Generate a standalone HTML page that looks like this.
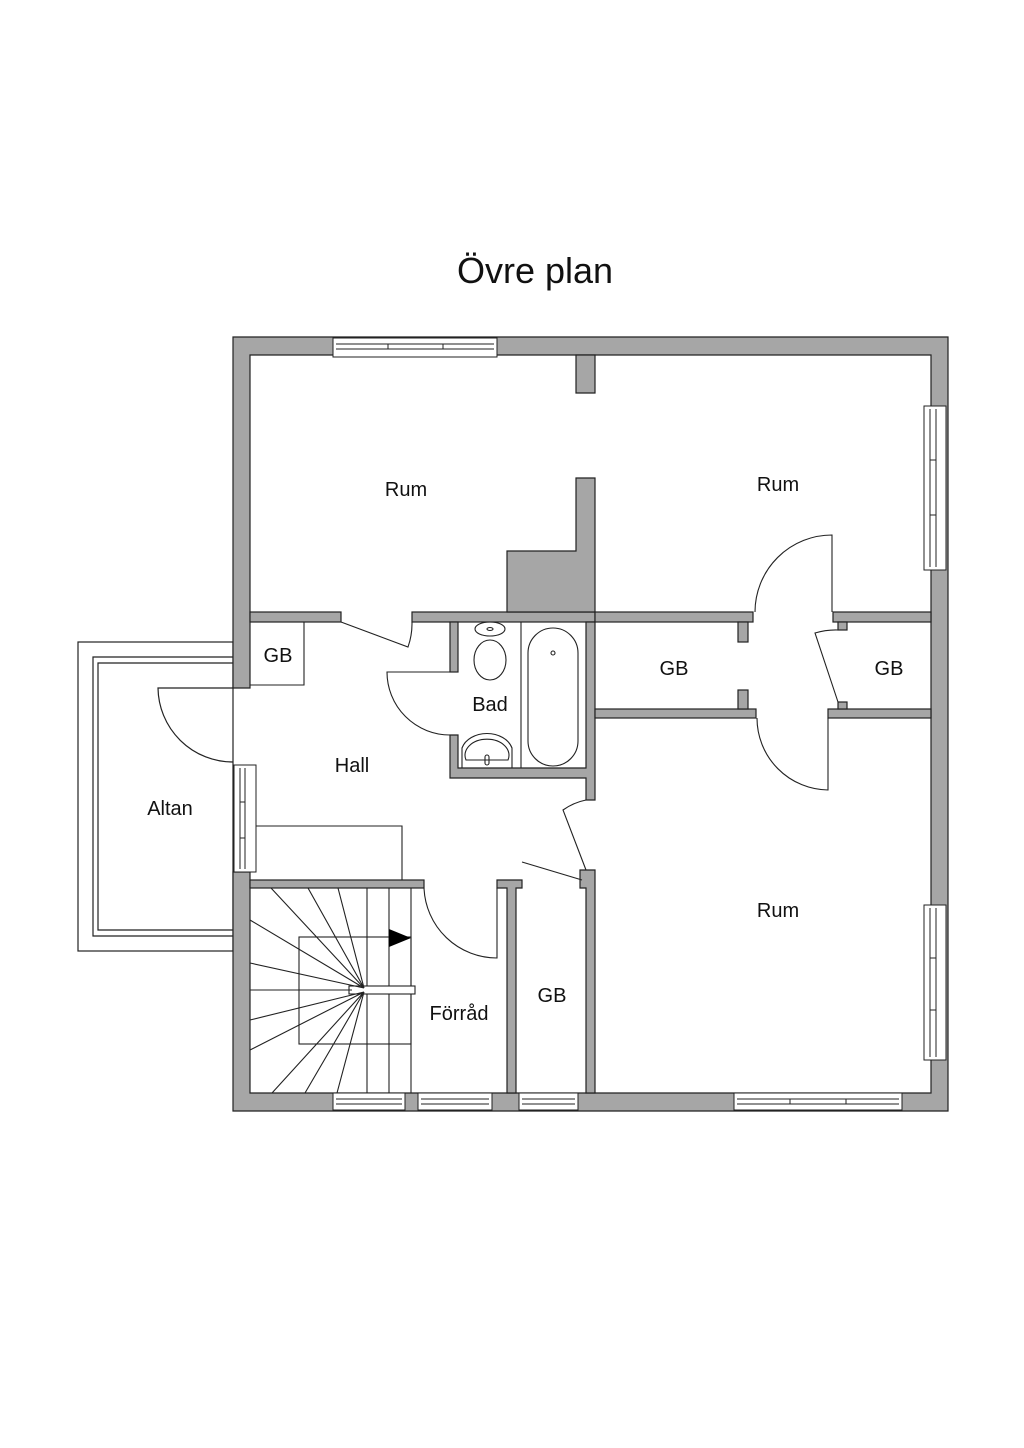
<!DOCTYPE html>
<html><head><meta charset="utf-8"><style>
html,body{margin:0;padding:0;background:#fff;width:1024px;height:1448px;overflow:hidden}
svg{display:block}
text{font-family:"Liberation Sans",sans-serif;fill:#111}
</style></head><body>
<svg width="1024" height="1448" viewBox="0 0 1024 1448" xmlns="http://www.w3.org/2000/svg">
<text x="535" y="283" font-size="36" text-anchor="middle">Övre plan</text>
<g fill="none" stroke="#222" stroke-width="1.2">
<!-- Altan -->
<rect x="78" y="642" width="155" height="309"/>
<path d="M233 657 H93 V936 H233 M233 663 H98 V930 H233"/>
<path d="M233 688 H158 A75 75 0 0 0 233 762"/>
</g>
<g fill="#a6a6a6" stroke="#222" stroke-width="1.2">
<!-- outer walls -->
<path d="M233 337 H948 V1111 H233 V872 H250 V1093 H931 V355 H250 V688 H233 Z"/>
<!-- top-left partition -->
<rect x="250" y="612" width="91" height="10"/>
<rect x="412" y="612" width="183" height="10"/>
<path d="M576 355 H595 V393 H576 Z"/>
<path d="M576 478 H595 V612 H507 V551 H576 Z"/>
<!-- bad walls -->
<rect x="450" y="622" width="8" height="50"/>
<path d="M450 735 H458 V768 H586 V622 H595 V800 H586 V778 H450 Z"/>
<!-- right partitions -->
<rect x="595" y="612" width="158" height="10"/>
<rect x="738" y="622" width="10" height="20"/>
<rect x="833" y="612" width="98" height="10"/>
<rect x="838" y="622" width="9" height="8"/>
<rect x="595" y="709" width="161" height="9"/>
<rect x="738" y="690" width="10" height="19"/>
<rect x="828" y="709" width="103" height="9"/>
<rect x="838" y="702" width="9" height="7"/>
<!-- stair top wall -->
<rect x="250" y="880" width="174" height="8"/>
<!-- forrad / gb walls -->
<path d="M497 880 H522 V888 H516 V1093 H507 V888 H497 Z"/>
<path d="M580 870 H595 V1093 H586 V888 H580 Z"/>
</g>
<!-- windows -->
<g fill="#fff" stroke="#222" stroke-width="1">
<rect x="333" y="338" width="164" height="19"/>
<path d="M336 344 H494 M336 349 H494 M388 344 V349 M443 344 V349" fill="none"/>
<rect x="924" y="406" width="22" height="164"/>
<path d="M930 409 V567 M936 409 V567 M930 460 H936 M930 515 H936" fill="none"/>
<rect x="924" y="905" width="22" height="155"/>
<path d="M930 908 V1057 M936 908 V1057 M930 958 H936 M930 1010 H936" fill="none"/>
<rect x="234" y="765" width="22" height="107"/>
<path d="M240 768 V869 M245 768 V869 M240 802 H245 M240 838 H245" fill="none"/>
<rect x="333" y="1093" width="72" height="17"/>
<path d="M336 1099 H402 M336 1104 H402" fill="none"/>
<rect x="418" y="1093" width="74" height="17"/>
<path d="M421 1099 H489 M421 1104 H489" fill="none"/>
<rect x="519" y="1093" width="59" height="17"/>
<path d="M522 1099 H575 M522 1104 H575" fill="none"/>
<rect x="734" y="1093" width="168" height="17"/>
<path d="M737 1099 H899 M737 1104 H899 M790 1099 V1104 M846 1099 V1104" fill="none"/>
</g>
<g fill="none" stroke="#222" stroke-width="1.1">
<!-- GB small box -->
<path d="M250 685 H304 V622"/>
<!-- bench -->
<path d="M256 826 H402 V880"/>
<!-- doors -->
<path d="M341 622 L408 647 A70 70 0 0 0 412 622"/>
<path d="M450 672 H387 A63 63 0 0 0 450 735"/>
<path d="M832 612 V535 A77 77 0 0 0 755 612"/>
<path d="M828 718 V790 A72 72 0 0 1 757 718"/>
<path d="M838 702 L815 633 A72 72 0 0 1 838 630"/>
<path d="M424 888 A73 73 0 0 0 497 958 V888"/>
<path d="M522 862 L582 880"/>
<path d="M586 870 L563 810 A60 60 0 0 1 586 800"/>
<!-- bath -->
<path d="M521 622 V768"/>
<rect x="528" y="628" width="50" height="138" rx="25"/>
<circle cx="553" cy="653" r="2"/>
<ellipse cx="490" cy="629" rx="15" ry="7"/>
<ellipse cx="490" cy="660" rx="16" ry="20"/>
<ellipse cx="490" cy="629" rx="3" ry="1.5"/>
<path d="M462 768 V748 A26 20 0 0 1 512 748 V768"/>
<path d="M466 760 A22 16 0 1 1 508 760 Z"/>
<rect x="485" y="755" width="4" height="10" rx="2"/>
<!-- stairs -->
<rect x="299" y="937" width="112" height="107"/>
<path d="M367 888 V1093 M389 888 V1093 M411 888 V1093"/>
<rect x="349" y="986" width="66" height="8" fill="#fff"/>
<path d="M364 988 L271 888 M364 988 L308 888 M364 988 L338 888
M364 988 L250 920 M364 988 L250 963 M352 990 H250
M364 992 L250 1020 M364 992 L250 1050 M364 992 L272 1093 M364 992 L305 1093 M364 992 L337 1093"/>
</g>
<path d="M389 929 L411 938 L389 947 Z" fill="#000"/>
<g font-size="20" text-anchor="middle">
<text x="406" y="496">Rum</text>
<text x="778" y="491">Rum</text>
<text x="778" y="917">Rum</text>
<text x="278" y="662">GB</text>
<text x="674" y="675">GB</text>
<text x="889" y="675">GB</text>
<text x="490" y="711">Bad</text>
<text x="352" y="772">Hall</text>
<text x="170" y="815">Altan</text>
<text x="459" y="1020">Förråd</text>
<text x="552" y="1002">GB</text>
</g>
</svg>
</body></html>
